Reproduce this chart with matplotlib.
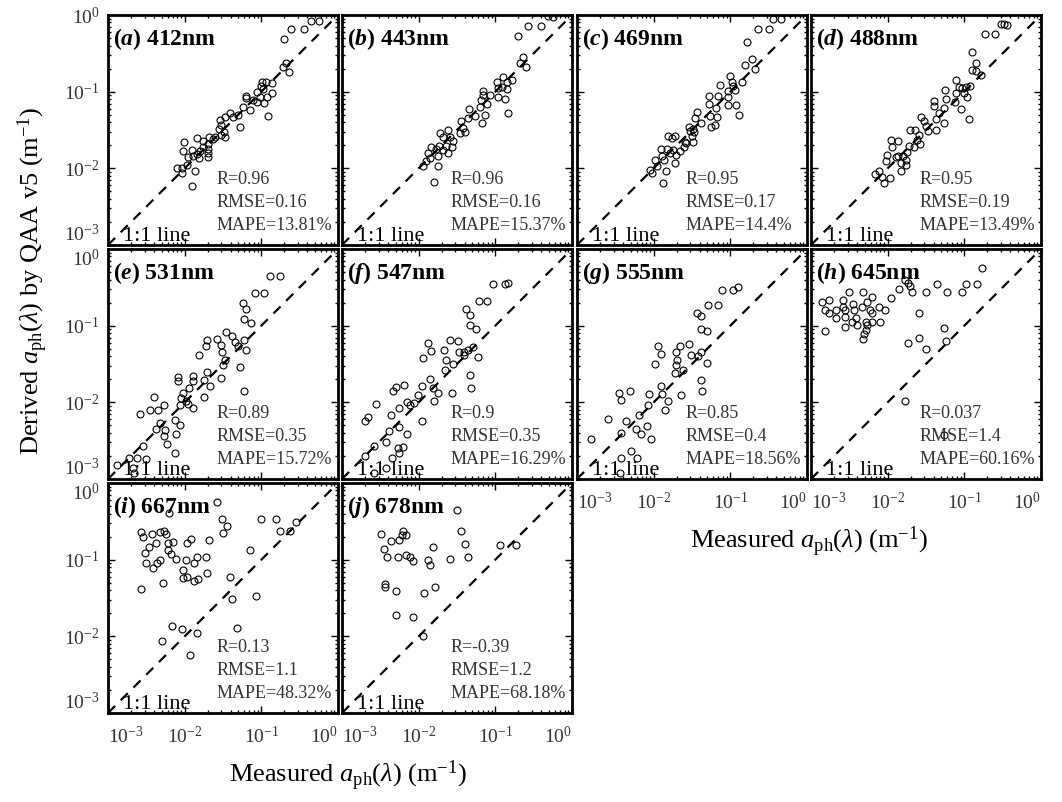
import matplotlib
matplotlib.use("Agg")
import matplotlib.pyplot as plt
from matplotlib.ticker import LogLocator, NullFormatter

plt.rcParams['font.family'] = ['Liberation Serif', 'DejaVu Serif']
plt.rcParams['mathtext.fontset'] = 'custom'
plt.rcParams['mathtext.rm'] = 'Liberation Serif'
plt.rcParams['mathtext.it'] = 'Liberation Serif:italic'
plt.rcParams['mathtext.bf'] = 'Liberation Serif:bold'
plt.rcParams['mathtext.bfit'] = 'Liberation Serif:italic:bold'

# panel names
letters = ['a', 'b', 'c', 'd', 'e', 'f', 'g', 'h', 'i', 'j']
waves = ['412', '443', '469', '488', '531', '547', '555', '645', '667', '678']

# statistics printed in each panel
r_vals = ['0.96', '0.96', '0.95', '0.95', '0.89', '0.9', '0.85', '0.037', '0.13', '-0.39']
rmse_vals = ['0.16', '0.16', '0.17', '0.19', '0.35', '0.35', '0.4', '1.4', '1.1', '1.2']
mape_vals = ['13.81', '15.37', '14.4', '13.49', '15.72', '16.29', '18.56', '60.16', '48.32', '68.18']

# (measured, derived) pairs
pts_a = [(0.44, 0.84), (0.56, 0.84), (0.245, 0.65), (0.36, 0.65), (0.20, 0.48), (0.21, 0.24), (0.19, 0.21),
         (0.23, 0.18), (0.103, 0.135), (0.114, 0.135), (0.098, 0.119), (0.136, 0.128), (0.106, 0.107),
         (0.136, 0.097), (0.087, 0.10), (0.117, 0.086), (0.096, 0.084), (0.079, 0.078), (0.109, 0.072),
         (0.087, 0.074), (0.064, 0.082), (0.063, 0.088), (0.123, 0.048), (0.071, 0.058), (0.058, 0.063),
         (0.049, 0.050), (0.053, 0.035), (0.039, 0.052), (0.034, 0.047), (0.029, 0.043), (0.030, 0.037),
         (0.028, 0.033), (0.033, 0.030), (0.034, 0.026), (0.030, 0.027), (0.025, 0.026), (0.021, 0.026),
         (0.0175, 0.023), (0.0144, 0.025), (0.020, 0.021), (0.0175, 0.019), (0.020, 0.018), (0.020, 0.0157),
         (0.020, 0.0139), (0.0158, 0.017), (0.0144, 0.0154), (0.0155, 0.0135), (0.013, 0.0145),
         (0.0123, 0.0173), (0.0099, 0.0223), (0.0096, 0.017), (0.0112, 0.0142), (0.0106, 0.011),
         (0.0091, 0.010), (0.0079, 0.010), (0.0136, 0.0093), (0.0091, 0.0088), (0.0123, 0.0058),
         (0.0237, 0.0239), (0.043, 0.047)]
pts_b = [(0.48, 0.97), (0.57, 0.95), (0.27, 0.72), (0.40, 0.72), (0.20, 0.53), (0.23, 0.28), (0.21, 0.24),
         (0.25, 0.21), (0.127, 0.157), (0.104, 0.135), (0.141, 0.135), (0.167, 0.142), (0.121, 0.114),
         (0.141, 0.107), (0.109, 0.110), (0.070, 0.103), (0.070, 0.091), (0.085, 0.091), (0.109, 0.084),
         (0.134, 0.081), (0.148, 0.053), (0.066, 0.078), (0.079, 0.070), (0.063, 0.063), (0.073, 0.049),
         (0.068, 0.039), (0.046, 0.059), (0.054, 0.048), (0.044, 0.046), (0.036, 0.041), (0.038, 0.034),
         (0.040, 0.030), (0.035, 0.0286), (0.0244, 0.0316), (0.019, 0.0286), (0.021, 0.026), (0.0256, 0.0254),
         (0.028, 0.023), (0.023, 0.0198), (0.0186, 0.0198), (0.0269, 0.0192), (0.0206, 0.0173),
         (0.017, 0.0177), (0.0239, 0.0157), (0.0145, 0.0192), (0.0134, 0.016), (0.018, 0.0145),
         (0.014, 0.0135), (0.0125, 0.0126), (0.0115, 0.0108), (0.018, 0.0108), (0.0158, 0.0067)]
pts_c = [(0.355, 0.88), (0.46, 0.88), (0.233, 0.65), (0.32, 0.65), (0.163, 0.446), (0.189, 0.265),
         (0.155, 0.224), (0.209, 0.197), (0.10, 0.161), (0.104, 0.132), (0.140, 0.132), (0.108, 0.117),
         (0.093, 0.101), (0.115, 0.106), (0.073, 0.123), (0.053, 0.087), (0.070, 0.087), (0.094, 0.085),
         (0.052, 0.070), (0.066, 0.061), (0.092, 0.067), (0.119, 0.068), (0.131, 0.050), (0.037, 0.055),
         (0.035, 0.045), (0.042, 0.039), (0.054, 0.048), (0.067, 0.047), (0.056, 0.035), (0.063, 0.037),
         (0.0285, 0.035), (0.033, 0.033), (0.032, 0.0263), (0.034, 0.0296), (0.0253, 0.022), (0.0325, 0.022),
         (0.0245, 0.0191), (0.0218, 0.0166), (0.0197, 0.015), (0.0155, 0.0268), (0.0189, 0.0268),
         (0.0175, 0.0248), (0.0126, 0.018), (0.0149, 0.0177), (0.0178, 0.0173), (0.0104, 0.0128),
         (0.0135, 0.0128), (0.011, 0.0107), (0.0146, 0.0091), (0.0189, 0.0119), (0.0161, 0.016),
         (0.0127, 0.0145), (0.0089, 0.0094), (0.0094, 0.0086), (0.0131, 0.0064), (0.0266, 0.0215),
         (0.030, 0.0305)]
pts_d = [(0.30, 0.76), (0.33, 0.76), (0.36, 0.75), (0.186, 0.56), (0.25, 0.56), (0.127, 0.333), (0.144, 0.239),
         (0.125, 0.192), (0.141, 0.186), (0.163, 0.165), (0.079, 0.142), (0.084, 0.114), (0.094, 0.110),
         (0.104, 0.114), (0.117, 0.120), (0.099, 0.095), (0.109, 0.084), (0.077, 0.097), (0.056, 0.105),
         (0.058, 0.081), (0.075, 0.073), (0.090, 0.060), (0.115, 0.044), (0.040, 0.076), (0.040, 0.065),
         (0.054, 0.061), (0.047, 0.053), (0.043, 0.044), (0.054, 0.039), (0.043, 0.0316), (0.027, 0.047),
         (0.030, 0.041), (0.032, 0.0356), (0.034, 0.031), (0.0228, 0.0316), (0.0256, 0.0272), (0.0244, 0.0234),
         (0.0261, 0.0208), (0.022, 0.0192), (0.019, 0.0198), (0.018, 0.0165), (0.0159, 0.0146),
         (0.0138, 0.0146), (0.0172, 0.0128), (0.0148, 0.0116), (0.0175, 0.0110), (0.0109, 0.0234),
         (0.0138, 0.0229), (0.0115, 0.0192), (0.0099, 0.0149), (0.0127, 0.0139), (0.0096, 0.0126),
         (0.0077, 0.0091), (0.0068, 0.0084), (0.0085, 0.0078), (0.0106, 0.0074), (0.0090, 0.0065),
         (0.0148, 0.0093), (0.0194, 0.0316)]
pts_e = [(0.130, 0.445), (0.175, 0.445), (0.083, 0.264), (0.109, 0.264), (0.057, 0.2), (0.064, 0.167),
         (0.060, 0.122), (0.073, 0.108), (0.0346, 0.082), (0.042, 0.073), (0.059, 0.065), (0.046, 0.061),
         (0.049, 0.055), (0.063, 0.048), (0.053, 0.0286), (0.059, 0.0142), (0.0198, 0.065), (0.019, 0.055),
         (0.0267, 0.067), (0.0295, 0.056), (0.0307, 0.046), (0.0154, 0.042), (0.0336, 0.0356), (0.032, 0.031),
         (0.030, 0.0208), (0.0194, 0.025), (0.0179, 0.0198), (0.0214, 0.0163), (0.018, 0.0116),
         (0.0127, 0.0223), (0.0127, 0.0192), (0.0081, 0.0216), (0.0081, 0.0192), (0.0115, 0.0154),
         (0.0096, 0.0131), (0.0090, 0.0114), (0.0104, 0.0105), (0.0112, 0.0095), (0.0127, 0.0084),
         (0.0087, 0.0091), (0.004, 0.0116), (0.0035, 0.0079), (0.0045, 0.0079), (0.0054, 0.0093),
         (0.0026, 0.0070), (0.0075, 0.0059), (0.0087, 0.0051), (0.0048, 0.0053), (0.0042, 0.0045),
         (0.0055, 0.0043), (0.0054, 0.0036), (0.0077, 0.0039), (0.0058, 0.0029), (0.0029, 0.0027),
         (0.0024, 0.0019), (0.0019, 0.0019), (0.0031, 0.0018), (0.0013, 0.0015), (0.0075, 0.0022),
         (0.0021, 0.0014), (0.0022, 0.0012)]
pts_f = [(0.094, 0.35), (0.135, 0.35), (0.145, 0.364), (0.061, 0.212), (0.079, 0.212), (0.041, 0.165),
         (0.047, 0.139), (0.047, 0.102), (0.056, 0.091), (0.0259, 0.065), (0.033, 0.0625), (0.0212, 0.048),
         (0.0228, 0.0356), (0.0339, 0.046), (0.039, 0.046), (0.044, 0.048), (0.0506, 0.052), (0.0387, 0.041),
         (0.059, 0.0387), (0.0277, 0.0316), (0.022, 0.0264), (0.047, 0.023), (0.048, 0.0154), (0.0269, 0.0131),
         (0.0131, 0.059), (0.0145, 0.047), (0.0115, 0.0375), (0.0142, 0.020), (0.0152, 0.0154),
         (0.0179, 0.0132), (0.016, 0.0103), (0.011, 0.0165), (0.0097, 0.0126), (0.0088, 0.0097),
         (0.0065, 0.017), (0.005, 0.0157), (0.0046, 0.0142), (0.0077, 0.0091), (0.007, 0.010),
         (0.0055, 0.0084), (0.0044, 0.0069), (0.0028, 0.0095), (0.0022, 0.0064), (0.002, 0.0057),
         (0.011, 0.0057), (0.0056, 0.0047), (0.007, 0.0039), (0.0041, 0.0042), (0.0037, 0.0030),
         (0.0053, 0.0025), (0.0062, 0.0026), (0.0056, 0.0022), (0.0026, 0.0027), (0.0045, 0.0019),
         (0.0020, 0.0020), (0.0037, 0.0014), (0.0026, 0.0012)]
pts_g = [(0.079, 0.296), (0.109, 0.296), (0.126, 0.318), (0.051, 0.184), (0.069, 0.184), (0.0365, 0.146),
         (0.041, 0.132), (0.041, 0.091), (0.049, 0.085), (0.0113, 0.054), (0.0222, 0.054), (0.0285, 0.057),
         (0.0126, 0.0425), (0.0197, 0.0455), (0.0201, 0.036), (0.0308, 0.041), (0.0376, 0.040),
         (0.042, 0.0455), (0.049, 0.033), (0.0105, 0.032), (0.0193, 0.0305), (0.024, 0.0263),
         (0.0188, 0.0243), (0.0416, 0.0195), (0.0425, 0.014), (0.0226, 0.0125), (0.0126, 0.0163),
         (0.013, 0.0128), (0.0152, 0.0104), (0.0087, 0.0128), (0.0084, 0.0092), (0.014, 0.0079),
         (0.0035, 0.0134), (0.0049, 0.0142), (0.0037, 0.0107), (0.0065, 0.0068), (0.0082, 0.0049),
         (0.0058, 0.0045), (0.0069, 0.0039), (0.0093, 0.0033), (0.0043, 0.0057), (0.0025, 0.006),
         (0.0038, 0.004), (0.0015, 0.0033), (0.005, 0.0023), (0.0061, 0.0019), (0.0037, 0.0019),
         (0.0036, 0.0012)]
pts_h = [(0.172, 0.56), (0.0168, 0.40), (0.0184, 0.356), (0.0195, 0.329), (0.0141, 0.298), (0.021, 0.277),
         (0.0313, 0.277), (0.0445, 0.349), (0.06, 0.277), (0.094, 0.277), (0.106, 0.346), (0.148, 0.346),
         (0.0112, 0.227), (0.0256, 0.148), (0.0014, 0.206), (0.0017, 0.216), (0.0015, 0.16), (0.0017, 0.145),
         (0.0021, 0.16), (0.0026, 0.216), (0.0026, 0.177), (0.0031, 0.277), (0.0028, 0.16), (0.0035, 0.192),
         (0.0036, 0.16), (0.0047, 0.277), (0.0046, 0.177), (0.0054, 0.206), (0.0063, 0.239), (0.0058, 0.16),
         (0.0063, 0.145), (0.0077, 0.173), (0.0092, 0.16), (0.0021, 0.125), (0.0028, 0.131), (0.0028, 0.097),
         (0.0034, 0.113), (0.0039, 0.125), (0.004, 0.102), (0.0052, 0.113), (0.0053, 0.102), (0.0062, 0.113),
         (0.0079, 0.113), (0.0052, 0.088), (0.0049, 0.078), (0.0047, 0.068), (0.0015, 0.085), (0.0186, 0.059),
         (0.0256, 0.070), (0.0313, 0.049), (0.054, 0.094), (0.058, 0.064), (0.0168, 0.0105), (0.054, 0.0037)]
pts_i = [(0.0267, 0.57), (0.0063, 0.41), (0.0304, 0.336), (0.036, 0.275), (0.0313, 0.225), (0.099, 0.336),
         (0.155, 0.336), (0.175, 0.239), (0.237, 0.239), (0.28, 0.31), (0.0027, 0.232), (0.0029, 0.20),
         (0.0037, 0.216), (0.0048, 0.232), (0.0054, 0.239), (0.0057, 0.216), (0.0042, 0.167), (0.0034, 0.148),
         (0.003, 0.123), (0.0031, 0.091), (0.0039, 0.079), (0.0043, 0.091), (0.0048, 0.099), (0.0061, 0.163),
         (0.007, 0.172), (0.0061, 0.134), (0.0066, 0.119), (0.0077, 0.101), (0.0052, 0.049), (0.0027, 0.042),
         (0.012, 0.184), (0.0108, 0.167), (0.0104, 0.099), (0.0094, 0.073), (0.0108, 0.059), (0.0096, 0.057),
         (0.0132, 0.09), (0.0132, 0.052), (0.0148, 0.056), (0.0144, 0.109), (0.019, 0.107), (0.0194, 0.068),
         (0.021, 0.181), (0.071, 0.134), (0.039, 0.060), (0.041, 0.0304), (0.085, 0.0336), (0.0068, 0.0136),
         (0.0091, 0.0123), (0.0146, 0.0109), (0.005, 0.0088), (0.0486, 0.0127), (0.0117, 0.0057)]
pts_j = [(0.032, 0.45), (0.036, 0.239), (0.040, 0.16), (0.0445, 0.107), (0.116, 0.154), (0.186, 0.154),
         (0.0032, 0.216), (0.0044, 0.173), (0.0056, 0.182), (0.006, 0.208), (0.0063, 0.239), (0.0068, 0.208),
         (0.0035, 0.139), (0.0039, 0.107), (0.0054, 0.107), (0.0068, 0.114), (0.0077, 0.108), (0.0085, 0.095),
         (0.0131, 0.10), (0.0142, 0.084), (0.0152, 0.145), (0.0259, 0.103), (0.0036, 0.048), (0.0036, 0.0436),
         (0.0051, 0.0387), (0.0119, 0.0364), (0.0165, 0.0436), (0.0051, 0.0192), (0.0085, 0.0177),
         (0.0115, 0.0102)]
all_pts = [pts_a, pts_b, pts_c, pts_d, pts_e, pts_f, pts_g, pts_h, pts_i, pts_j]
decades = [1e-3, 1e-2, 1e-1, 1e0]

W, H = 1062, 802
fig = plt.figure(figsize=(W / 100, H / 100), dpi=100)

lefts = [108, 342, 577, 811]
tops = [15, 249, 483]
size = 230
grey = '#333333'

for k in range(10):
    row, col = k // 4, k % 4
    ax = fig.add_axes([lefts[col] / W, 1 - (tops[row] + size) / H, size / W, size / H])
    xs = [p[0] for p in all_pts[k]]
    ys = [p[1] for p in all_pts[k]]
    ax.plot([1e-3, 1], [1e-3, 1], color='k', lw=1.6, ls=(0, (4.5, 3.6)))
    ax.plot(xs, ys, 'o', mfc='none', mec='k', ms=5, mew=0.8)
    ax.set_xscale('log')
    ax.set_yscale('log')
    ax.set_xlim(1e-3, 1)
    ax.set_ylim(1e-3, 1)
    ax.set_xticks(decades)
    ax.set_yticks(decades)
    for axis in [ax.xaxis, ax.yaxis]:
        axis.set_minor_locator(LogLocator(base=10, subs=range(2, 10), numticks=10))
        axis.set_minor_formatter(NullFormatter())
    ax.tick_params(which='both', direction='in', top=True, right=True, labelsize=14,
                   labelcolor=grey, width=1)
    ax.tick_params(which='major', length=5)
    ax.tick_params(which='minor', length=2.5)
    ax.tick_params(axis='x', pad=9)
    ax.tick_params(axis='y', pad=6)
    ax.tick_params(labelleft=(col == 0), labelbottom=(k in [6, 7, 8, 9]))
    # keep end labels inside the panel width / height
    xt = ax.xaxis.get_major_ticks()
    xt[0].label1.set_ha('left')
    xt[-1].label1.set_ha('right')
    yt = ax.yaxis.get_major_ticks()
    yt[0].label1.set_va('bottom')
    if row > 0:
        yt[-1].label1.set_va('top')
    for s in ax.spines.values():
        s.set_linewidth(2)

    ax.text(0.022, 0.87, r'$\mathbf{(}\mathbfit{' + letters[k] + r'}\mathbf{)\ ' + waves[k] + r'nm}$',
            transform=ax.transAxes, fontsize=17, va='baseline')
    ax.text(0.47, 0.265, 'R=' + r_vals[k], transform=ax.transAxes, fontsize=13, color=grey, va='baseline')
    ax.text(0.47, 0.165, 'RMSE=' + rmse_vals[k], transform=ax.transAxes, fontsize=13, color=grey, va='baseline')
    ax.text(0.47, 0.065, 'MAPE=' + mape_vals[k] + '%', transform=ax.transAxes, fontsize=13, color=grey,
            va='baseline')
    ax.text(0.065, 0.017, '1:1 line', transform=ax.transAxes, fontsize=16, va='baseline')

xlab = r'Measured $\mathit{a}_{\rm ph}(\lambda)$ (m$^{-1}$)'
ylab = r'Derived $\mathit{a}_{\rm ph}(\lambda)$ by QAA v5 (m$^{-1}$)'
fig.text(348 / W, 1 - 782 / H, xlab, ha='center', va='baseline', fontsize=19)
fig.text(809 / W, 1 - 548 / H, xlab, ha='center', va='baseline', fontsize=19)
fig.text(33 / W, 1 - 455 / H, ylab, rotation=90, ha='center', va='bottom', fontsize=19)

fig.savefig('out.png', dpi=100)
